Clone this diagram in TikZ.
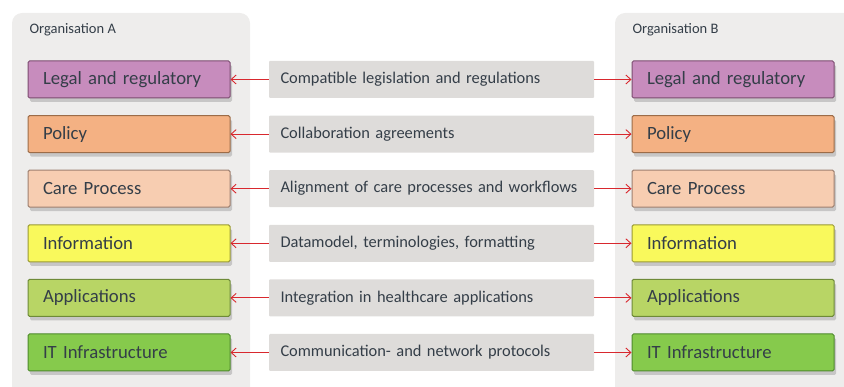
\documentclass[tikz,border=0pt]{standalone}
\usepackage{fontspec}
\setmainfont{Carlito}
\usetikzlibrary{positioning,
        shadows,
        arrows.meta}
\usepackage{xcolor}
\definecolor{panelgray}{HTML}{EEEDEC}
\definecolor{midgray}{HTML}{DEDCDA}
\definecolor{textgray}{HTML}{343E48}
\definecolor{arrowred}{HTML}{D8282E}
\definecolor{legalfill}{HTML}{C78CBD}
\definecolor{legaldraw}{HTML}{7C4C70}
\definecolor{policyfill}{HTML}{F4B183}
\definecolor{policydraw}{HTML}{9C6C48}
\definecolor{carefill}{HTML}{F7CDB1}
\definecolor{caredraw}{HTML}{9E8070}
\definecolor{infofill}{HTML}{F9F95C}
\definecolor{infodraw}{HTML}{9A9A34}
\definecolor{appfill}{HTML}{B8D565}
\definecolor{appdraw}{HTML}{6E8A38}
\definecolor{itfill}{HTML}{86CA4C}
\definecolor{itdraw}{HTML}{4E8A2C}

\tikzset{
    layer/.style={rectangle,rounded corners=1.5pt,line width=1pt,
        minimum height=37pt,text width=172pt,inner xsep=15pt,align=left,
        font=\fontsize{18.7}{22}\selectfont,text=textgray,
        drop shadow={opacity=0.35,shadow xshift=2pt,shadow yshift=-4pt}},
    agree/.style={rectangle,rounded corners=1pt,fill=midgray,
        minimum height=37pt,text width=302pt,inner xsep=11.5pt,align=left,
        font=\fontsize{16.4}{20}\selectfont,text=textgray},
    link/.style={arrowred,line width=0.9pt,-{Straight Barb[length=5pt,width=9pt]}},
    orglabel/.style={font=\fontsize{14.5}{17}\selectfont,text=textgray,anchor=west}
}

\begin{document}
\begin{tikzpicture}[x=1pt,y=-1pt]
            \useasboundingbox (0,0) rectangle (844,387);
            \begin{scope}
            \clip (0,0) rectangle (844,387);
            \fill [panelgray,rounded corners=10pt] (12,13) rectangle (250,410);
            \fill [panelgray,rounded corners=10pt] (615,13) rectangle (870,410);
            \end{scope}
            \node [orglabel] (orgA) at (26,30) {Organisation A};
            \node [orglabel] (orgB) at (629,30) {Organisation B};

            \node [layer,fill=legalfill,draw=legaldraw] (legalA) at (129,79.5) {Legal and regulatory};
            \node [layer,fill=policyfill,draw=policydraw] (policyA) at (129,134.1) {Policy};
            \node [layer,fill=carefill,draw=caredraw] (careA) at (129,188.7) {Care Process};
            \node [layer,fill=infofill,draw=infodraw] (infoA) at (129,243.3) {Information};
            \node [layer,fill=appfill,draw=appdraw] (appA) at (129,297.9) {Applications};
            \node [layer,fill=itfill,draw=itdraw] (itA) at (129,352.5) {IT Infrastructure};

            \node [layer,fill=legalfill,draw=legaldraw] (legalB) at (733,79.5) {Legal and regulatory};
            \node [layer,fill=policyfill,draw=policydraw] (policyB) at (733,134.1) {Policy};
            \node [layer,fill=carefill,draw=caredraw] (careB) at (733,188.7) {Care Process};
            \node [layer,fill=infofill,draw=infodraw] (infoB) at (733,243.3) {Information};
            \node [layer,fill=appfill,draw=appdraw] (appB) at (733,297.9) {Applications};
            \node [layer,fill=itfill,draw=itdraw] (itB) at (733,352.5) {IT Infrastructure};

            \node [agree] (legal) at (431.5,79.5) {Compatible legislation and regulations};
            \node [agree] (policy) at (431.5,134.1) {Collaboration agreements};
            \node [agree] (care) at (431.5,188.7) {Alignment of care processes and workflows};
            \node [agree] (info) at (431.5,243.3) {Datamodel, terminologies, formatting};
            \node [agree] (app) at (431.5,297.9) {Integration in healthcare applications};
            \node [agree] (it) at (431.5,352.5) {Communication- and network protocols};

            \draw [link] (legal) -- (legalA);
            \draw [link] (legal) -- (legalB);
            \draw [link] (policy) -- (policyA);
            \draw [link] (policy) -- (policyB);
            \draw [link] (care) -- (careA);
            \draw [link] (care) -- (careB);
            \draw [link] (info) -- (infoA);
            \draw [link] (info) -- (infoB);
            \draw [link] (app) -- (appA);
            \draw [link] (app) -- (appB);
            \draw [link] (it) -- (itA);
            \draw [link] (it) -- (itB);
        \end{tikzpicture}
\end{document}
